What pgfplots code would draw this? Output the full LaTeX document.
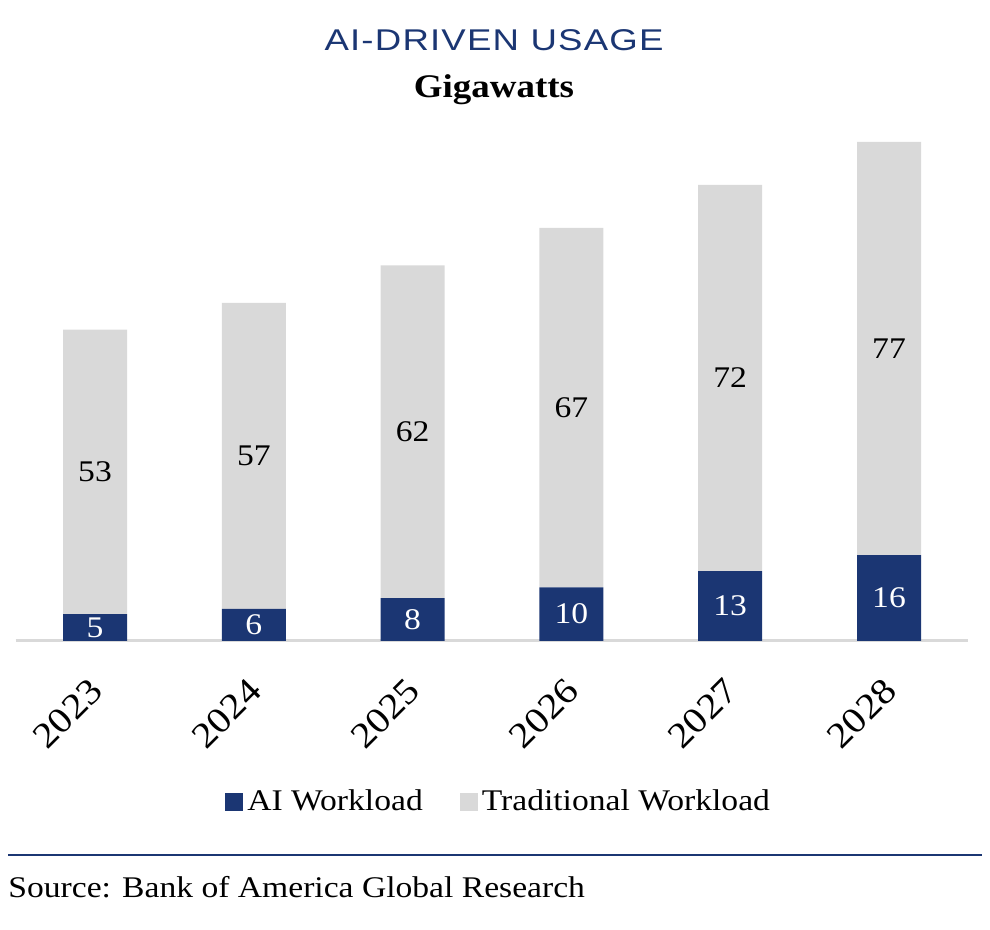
\documentclass[border=0pt]{standalone}
\usepackage{fontspec}
\setmainfont{Liberation Serif}[FakeStretch=1.12]
\newfontfamily\titlefont{Liberation Sans}[FakeStretch=1.22,LetterSpace=4]
\usepackage{pgfplots}
\usepackage{pgfplotstable}
\pgfplotsset{compat=1.18}
\definecolor{navy}{HTML}{1B3673}
\definecolor{lgray}{HTML}{D9D9D9}
\pgfplotstableread{
x ai trad
0 5 53
1 6 57
2 8 62
3 10 67
4 13 72
5 16 77
}\datatable
\pgfplotstableread{
x aimid aival tradmid tradval
0 2.5 5 31.5 53
1 3.0 6 34.5 57
2 4.0 8 39.0 62
3 5.0 10 43.5 67
4 6.5 13 49.0 72
5 8.0 16 54.5 77
}\labeltable
\pgfplotsset{
  base/.style={
    at={(7.8pt,144.5pt)}, anchor=south west,
    scale only axis, width=476.4pt, height=254.9pt,
    xmin=-0.5, xmax=5.5, ymin=0, ymax=95,
    clip=false,
  }
}
\begin{document}
\begin{tikzpicture}[x=1pt,y=1pt]
\useasboundingbox (0,0) rectangle (495,465);
\begin{axis}[base,
  ybar stacked, bar width=32pt,
  axis x line=bottom, axis y line=none,
  x axis line style={-, lgray, line width=1.5pt},
  xtick={0,1,2,3,4,5},
  xticklabels={2023,2024,2025,2026,2027,2028},
  xtick style={draw=none},
  ytick=\empty,
  xticklabel style={inner sep=0pt, xshift=0.75pt, yshift=-19.75pt, rotate=45, anchor=east, font=\fontsize{18}{18}\selectfont},
  legend style={at={(0.508,-0.316)}, anchor=center, draw=none, legend columns=2,
    font=\fontsize{15}{15}\selectfont,
    /tikz/every even column/.append style={column sep=16.5pt}},
  legend image code/.code={\fill[#1] (0pt,-4.5pt) rectangle (9pt,4.5pt);},
]
\addplot[fill=navy, draw=none] table[x=x, y=ai] {\datatable};
\addlegendentry{AI Workload}
\addplot[fill=lgray, draw=none] table[x=x, y=trad] {\datatable};
\addlegendentry{Traditional Workload}
\end{axis}
\begin{axis}[base, hide axis]
\addplot[draw=none, mark=none, nodes near coords, point meta=explicit symbolic,
  every node near coord/.style={anchor=center, white, font=\fontsize{15}{15}\selectfont}]
  table[x=x, y=aimid, meta=aival] {\labeltable};
\addplot[draw=none, mark=none, nodes near coords, point meta=explicit symbolic,
  every node near coord/.style={anchor=center, black, font=\fontsize{15}{15}\selectfont}]
  table[x=x, y=tradmid, meta=tradval] {\labeltable};
\end{axis}
\node[navy, font=\titlefont\fontsize{15}{15}\selectfont] at (247,445) {AI-DRIVEN USAGE};
\node[black, font=\bfseries\fontsize{16.5}{16.5}\selectfont] at (247,420) {Gigawatts};
\draw[navy, line width=1pt] (4,37.5) -- (491,37.5);
\node[anchor=west, inner sep=0pt, font=\fontsize{15}{15}\selectfont] at (4,21.5) {Source: Bank of America Global Research};
\end{tikzpicture}
\end{document}
